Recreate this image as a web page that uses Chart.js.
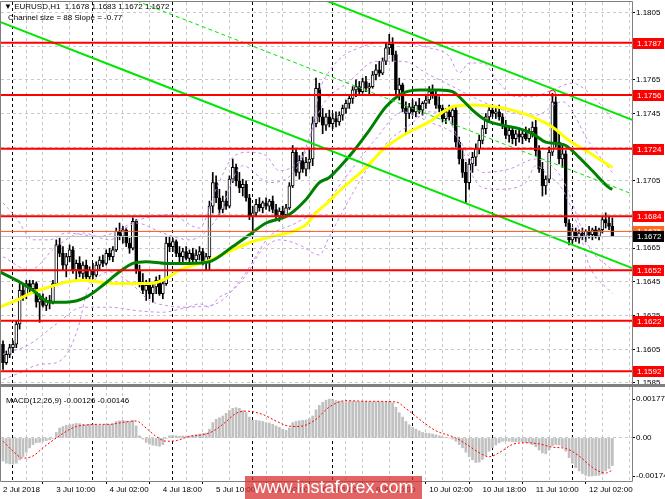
<!DOCTYPE html>
<html>
<head>
<meta charset="utf-8">
<script src="https://cdn.jsdelivr.net/npm/chart.js@4.4.1/dist/chart.umd.min.js"></script>
<style>
  html, body { margin: 0; padding: 0; background: #fff; }
  #wrap { position: relative; width: 665px; height: 499px; overflow: hidden; font-family: 'Liberation Sans', Arial, sans-serif; }
  canvas { position: absolute; left: 0; }
  #price { top: 0; }
  #macd { top: 386px; }
  .txt { position: absolute; font-size: 8px; line-height: 10px; color: #000; white-space: pre; }
  #mark { position: absolute; left: 245px; top: 476px; width: 177px; height: 23px; background: rgba(215, 50, 50, 0.75);
          color: #fff; font-size: 18px; line-height: 23px; text-align: center; }
</style>
</head>
<body>
<div id="wrap">
  <canvas id="price" width="665" height="392"></canvas>
  <canvas id="macd" width="665" height="113"></canvas>
  <div class="txt" style="left:4px;top:2px">▼ EURUSD,H1  1.1678 1.1683 1.1672 1.1672</div>
  <div class="txt" style="left:8px;top:13px">Channel size = 88 Slope = -0.77</div>
  <div class="txt" style="left:6px;top:396px">MACD(12,26,9) -0.00126 -0.00146</div>
  <div id="mark">www.instaforex.com</div>
</div>
<script>
// H1 candles, bar 0 = 2 Jul 18:00
const opens = [
  1.1608,1.1597,1.1602,1.1606,1.1608,1.1620,1.1640,1.1637,1.1644,1.1641,
  1.1644,1.1633,1.1635,1.1631,1.1634,1.1633,1.1644,1.1667,1.1662,1.1655,
  1.1660,1.1664,1.1652,1.1656,1.1650,1.1655,1.1648,1.1652,1.1649,1.1655,
  1.1658,1.1656,1.1662,1.1660,1.1664,1.1675,1.1672,1.1676,1.1668,1.1665,
  1.1681,1.1652,1.1645,1.1640,1.1643,1.1638,1.1642,1.1646,1.1638,1.1644,
  1.1668,1.1666,1.1669,1.1662,1.1660,1.1663,1.1659,1.1662,1.1658,1.1661,
  1.1663,1.1657,1.1660,1.1690,1.1704,1.1695,1.1688,1.1693,1.1690,1.1706,
  1.1713,1.1705,1.1701,1.1703,1.1695,1.1684,1.1686,1.1691,1.1689,1.1692,
  1.1690,1.1693,1.1688,1.1684,1.1687,1.1685,1.1689,1.1702,1.1722,1.1710,
  1.1717,1.1712,1.1716,1.1718,1.1739,1.1760,1.1743,1.1738,1.1743,1.1739,
  1.1742,1.1740,1.1744,1.1748,1.1751,1.1754,1.1759,1.1761,1.1758,1.1764,
  1.1760,1.1761,1.1768,1.1771,1.1769,1.1776,1.1784,1.1786,1.1780,1.1759,
  1.1762,1.1748,1.1745,1.1749,1.1746,1.1750,1.1747,1.1751,1.1753,1.1758,
  1.1756,1.1750,1.1748,1.1742,1.1746,1.1743,1.1747,1.1728,1.1718,1.1710,
  1.1704,1.1715,1.1719,1.1724,1.1729,1.1736,1.1743,1.1747,1.1745,1.1746,
  1.1743,1.1738,1.1732,1.1735,1.1730,1.1733,1.1731,1.1733,1.1730,1.1734,
  1.1737,1.1723,1.1712,1.1702,1.1706,1.1722,1.1752,1.1728,1.1718,1.1721,
  1.1680,1.1670,1.1675,1.1671,1.1674,1.1672,1.1675,1.1673,1.1676,1.1672,
  1.1676,1.1682,1.1680,1.1678
];
const highs = [
  1.1610,1.1604,1.1608,1.1610,1.1622,1.1644,1.1644,1.1646,1.1646,1.1646,
  1.1645,1.1638,1.1638,1.1636,1.1637,1.1646,1.1670,1.1671,1.1666,1.1662,
  1.1667,1.1666,1.1658,1.1660,1.1657,1.1658,1.1654,1.1656,1.1657,1.1660,
  1.1661,1.1664,1.1665,1.1666,1.1677,1.1680,1.1678,1.1677,1.1671,1.1683,
  1.1682,1.1655,1.1650,1.1646,1.1647,1.1644,1.1648,1.1649,1.1646,1.1672,
  1.1672,1.1671,1.1670,1.1666,1.1665,1.1666,1.1664,1.1665,1.1664,1.1666,
  1.1665,1.1662,1.1693,1.1710,1.1708,1.1700,1.1696,1.1699,1.1708,1.1718,
  1.1715,1.1710,1.1706,1.1705,1.1697,1.1690,1.1694,1.1695,1.1693,1.1695,
  1.1694,1.1696,1.1691,1.1689,1.1690,1.1691,1.1704,1.1726,1.1724,1.1720,
  1.1722,1.1719,1.1724,1.1743,1.1766,1.1763,1.1748,1.1745,1.1747,1.1745,
  1.1746,1.1746,1.1750,1.1753,1.1756,1.1761,1.1765,1.1764,1.1766,1.1767,
  1.1763,1.1770,1.1774,1.1776,1.1778,1.1787,1.1792,1.1790,1.1782,1.1766,
  1.1763,1.1752,1.1751,1.1753,1.1752,1.1754,1.1752,1.1756,1.1761,1.1762,
  1.1759,1.1755,1.1750,1.1748,1.1750,1.1749,1.1749,1.1731,1.1724,1.1716,
  1.1718,1.1722,1.1727,1.1732,1.1738,1.1745,1.1749,1.1750,1.1749,1.1750,
  1.1745,1.1741,1.1737,1.1737,1.1735,1.1736,1.1735,1.1737,1.1736,1.1740,
  1.1741,1.1726,1.1716,1.1708,1.1725,1.1757,1.1755,1.1733,1.1727,1.1723,
  1.1682,1.1677,1.1677,1.1676,1.1677,1.1676,1.1678,1.1677,1.1678,1.1677,
  1.1684,1.1686,1.1684,1.1683
];
const lows = [
  1.1593,1.1596,1.1600,1.1603,1.1606,1.1617,1.1634,1.1635,1.1639,1.1638,
  1.1630,1.1621,1.1630,1.1628,1.1629,1.1632,1.1643,1.1660,1.1652,1.1648,
  1.1657,1.1650,1.1646,1.1648,1.1647,1.1646,1.1645,1.1647,1.1648,1.1652,
  1.1654,1.1655,1.1658,1.1657,1.1663,1.1670,1.1668,1.1666,1.1662,1.1664,
  1.1650,1.1642,1.1638,1.1634,1.1635,1.1633,1.1638,1.1637,1.1635,1.1643,
  1.1663,1.1663,1.1660,1.1657,1.1656,1.1658,1.1656,1.1657,1.1656,1.1658,
  1.1655,1.1652,1.1652,1.1686,1.1692,1.1685,1.1686,1.1688,1.1689,1.1704,
  1.1702,1.1698,1.1696,1.1693,1.1682,1.1673,1.1684,1.1687,1.1686,1.1688,
  1.1687,1.1686,1.1682,1.1681,1.1683,1.1684,1.1688,1.1701,1.1708,1.1706,
  1.1710,1.1708,1.1712,1.1714,1.1737,1.1740,1.1733,1.1735,1.1737,1.1736,
  1.1737,1.1738,1.1741,1.1745,1.1748,1.1751,1.1755,1.1756,1.1757,1.1758,
  1.1756,1.1760,1.1765,1.1767,1.1768,1.1774,1.1780,1.1776,1.1756,1.1753,
  1.1746,1.1733,1.1742,1.1744,1.1743,1.1745,1.1744,1.1748,1.1751,1.1754,
  1.1748,1.1746,1.1740,1.1739,1.1741,1.1738,1.1725,1.1715,1.1707,1.1692,
  1.1700,1.1710,1.1714,1.1721,1.1727,1.1733,1.1740,1.1743,1.1742,1.1741,
  1.1736,1.1730,1.1728,1.1727,1.1726,1.1728,1.1727,1.1729,1.1728,1.1731,
  1.1720,1.1710,1.1696,1.1697,1.1704,1.1720,1.1725,1.1715,1.1713,1.1678,
  1.1667,1.1668,1.1669,1.1668,1.1670,1.1669,1.1671,1.1670,1.1671,1.1670,
  1.1674,1.1677,1.1676,1.1672
];
const closes = [
  1.1597,1.1602,1.1606,1.1608,1.1620,1.1640,1.1637,1.1644,1.1641,1.1644,
  1.1633,1.1635,1.1631,1.1634,1.1633,1.1644,1.1667,1.1662,1.1655,1.1660,
  1.1664,1.1652,1.1656,1.1650,1.1655,1.1648,1.1652,1.1649,1.1655,1.1658,
  1.1656,1.1662,1.1660,1.1664,1.1675,1.1672,1.1676,1.1668,1.1665,1.1681,
  1.1652,1.1645,1.1640,1.1643,1.1638,1.1642,1.1646,1.1638,1.1644,1.1668,
  1.1666,1.1669,1.1662,1.1660,1.1663,1.1659,1.1662,1.1658,1.1661,1.1663,
  1.1657,1.1660,1.1690,1.1704,1.1695,1.1688,1.1693,1.1690,1.1706,1.1713,
  1.1705,1.1701,1.1703,1.1695,1.1684,1.1686,1.1691,1.1689,1.1692,1.1690,
  1.1693,1.1688,1.1684,1.1687,1.1685,1.1689,1.1702,1.1722,1.1710,1.1717,
  1.1712,1.1716,1.1718,1.1739,1.1760,1.1743,1.1738,1.1743,1.1739,1.1742,
  1.1740,1.1744,1.1748,1.1751,1.1754,1.1759,1.1761,1.1758,1.1764,1.1760,
  1.1761,1.1768,1.1771,1.1769,1.1776,1.1784,1.1786,1.1780,1.1759,1.1762,
  1.1748,1.1745,1.1749,1.1746,1.1750,1.1747,1.1751,1.1753,1.1758,1.1756,
  1.1750,1.1748,1.1742,1.1746,1.1743,1.1747,1.1728,1.1718,1.1710,1.1704,
  1.1715,1.1719,1.1724,1.1729,1.1736,1.1743,1.1747,1.1745,1.1746,1.1743,
  1.1738,1.1732,1.1735,1.1730,1.1733,1.1731,1.1733,1.1730,1.1734,1.1737,
  1.1723,1.1712,1.1702,1.1706,1.1722,1.1752,1.1728,1.1718,1.1721,1.1680,
  1.1670,1.1675,1.1671,1.1674,1.1672,1.1675,1.1673,1.1676,1.1672,1.1676,
  1.1682,1.1680,1.1678,1.1672
];

// moving averages (bar index, price)
const greenMaAt = [-1,5,9,14,19,25,30,35,39,43,49,56,62,69,74,79,84,86,91,95,98,101,105,110,115,120,125,131,135,138,141,145,150,155,159,163,167,169,173,177,182,183];
const greenMa = [1.1651,1.1645,1.1640,1.1633,1.1633,1.1636,1.1643,1.1651,1.1656,1.1657,1.1656,1.1656,1.1657,1.1666,1.1673,1.1680,1.1683,1.1685,1.1694,1.1704,1.1707,1.1713,1.1722,1.1735,1.1749,1.1757,1.1759,1.1759,1.1758,1.1753,1.1747,1.1741,1.1738,1.1736,1.1733,1.1728,1.1727,1.1726,1.1719,1.1711,1.1701,1.1700];
const yellowMaAt = [-1,5,9,14,19,24,29,34,39,44,49,53,61,69,75,81,87,91,94,98,101,108,115,121,128,135,141,148,153,159,165,170,175,179,183];
const yellowMa = [1.1630,1.1635,1.1639,1.1642,1.1645,1.1646,1.1645,1.1644,1.1644,1.1644,1.1647,1.1652,1.1657,1.1664,1.1669,1.1672,1.1675,1.1679,1.1686,1.1693,1.1699,1.1711,1.1725,1.1733,1.1740,1.1749,1.1750,1.1749,1.1747,1.1743,1.1737,1.1729,1.1723,1.1718,1.1713];

// violet dotted bands
const outerUpAt = [0,4,9,14,19,29,41,50,59,64,69,74,79,83,89,92,95,98,102,107,113,119,128,134,137,140,144,149,154,159,165,171,175,180,183];
const outerUp = [1.1692,1.1683,1.1670,1.1670,1.1674,1.1672,1.1682,1.1685,1.1677,1.1700,1.1719,1.1722,1.1720,1.1711,1.1717,1.1728,1.1758,1.1770,1.1779,1.1784,1.1787,1.1787,1.1784,1.1779,1.1769,1.1775,1.1775,1.1763,1.1755,1.1755,1.1759,1.1763,1.1759,1.1749,1.1741];
const outerLoAt = [0,5,11,16,20,23,25,28,32,39,44,49,55,59,62,65,69,74,77,83,89,95,98,104,110,116,122,128,134,138,141,144,149,157,160,164,168,173,176,182,183];
const outerLo = [1.1587,1.1591,1.1596,1.1597,1.1605,1.1621,1.1638,1.1647,1.1651,1.1643,1.1634,1.1631,1.1630,1.1632,1.1630,1.1636,1.1640,1.1652,1.1662,1.1670,1.1667,1.1661,1.1672,1.1694,1.1714,1.1729,1.1738,1.1746,1.1741,1.1723,1.1708,1.1701,1.1700,1.1704,1.1714,1.1708,1.1700,1.1676,1.1655,1.1640,1.1638];
const innerAt = [0,8,16,24,32,40,48,56,64,72,80,88,96,104,112,120,128,136,144,152,160,168,176,183];
const innerUp = [1.1660,1.1652,1.1666,1.1674,1.1670,1.1680,1.1674,1.1670,1.1682,1.1714,1.1704,1.1712,1.1750,1.1764,1.1776,1.1776,1.1768,1.1760,1.1752,1.1746,1.1744,1.1752,1.1728,1.1710];
const innerLo = [1.1602,1.1608,1.1620,1.1630,1.1630,1.1628,1.1627,1.1630,1.1632,1.1648,1.1672,1.1680,1.1690,1.1710,1.1730,1.1746,1.1740,1.1732,1.1710,1.1712,1.1718,1.1706,1.1666,1.1652];

// regression channel (88 pips wide, slope -0.77 pips per bar)
const channelAt = [-1, 189];
const channelHigh = [1.18875, 1.17412];
const channelMid = [1.18435, 1.16972];
const channelLow = [1.17995, 1.16532];

// horizontal levels
const levels = [1.1787, 1.1756, 1.1724, 1.1684, 1.1652, 1.1622, 1.1592];
const askLevel = 1.1675;
const bidLevel = 1.1672;
const alertBar = [165];
const alertPrice = [1.1757];

// MACD(12,26,9)
const macd = [
  -0.00105,-0.00115,-0.00118,-0.00119,-0.00115,-0.00100,-0.00085,-0.00065,-0.00045,-0.00030,
  -0.00022,-0.00020,-0.00015,-0.00012,-0.00008,-0.00002,0.00025,0.00045,0.00052,0.00058,
  0.00060,0.00063,0.00066,0.00065,0.00062,0.00060,0.00062,0.00063,0.00060,0.00058,
  0.00060,0.00063,0.00062,0.00065,0.00075,0.00078,0.00080,0.00077,0.00074,0.00080,
  0.00055,0.00010,-0.00005,-0.00020,-0.00028,-0.00033,-0.00035,-0.00038,-0.00030,-0.00003,
  0.00010,0.00012,0.00010,0.00008,0.00009,0.00008,0.00009,0.00012,0.00015,0.00018,
  0.00020,0.00022,0.00040,0.00070,0.00085,0.00092,0.00100,0.00112,0.00125,0.00135,
  0.00138,0.00135,0.00125,0.00115,0.00095,0.00080,0.00080,0.00078,0.00075,0.00070,
  0.00068,0.00062,0.00055,0.00048,0.00040,0.00035,0.00045,0.00070,0.00075,0.00078,
  0.00080,0.00082,0.00088,0.00100,0.00128,0.00148,0.00162,0.00172,0.00177,0.00175,
  0.00170,0.00168,0.00165,0.00165,0.00167,0.00167,0.00166,0.00165,0.00166,0.00166,
  0.00165,0.00164,0.00165,0.00165,0.00164,0.00165,0.00166,0.00160,0.00140,0.00115,
  0.00095,0.00075,0.00060,0.00048,0.00040,0.00032,0.00025,0.00022,0.00020,0.00018,
  0.00014,0.00010,0.00005,0.00003,0.00000,-0.00005,-0.00015,-0.00030,-0.00045,-0.00065,
  -0.00085,-0.00100,-0.00112,-0.00110,-0.00098,-0.00080,-0.00060,-0.00045,-0.00032,-0.00022,
  -0.00015,-0.00014,-0.00015,-0.00016,-0.00017,-0.00016,-0.00018,-0.00020,-0.00022,-0.00030,
  -0.00040,-0.00055,-0.00068,-0.00072,-0.00055,-0.00035,-0.00030,-0.00032,-0.00040,-0.00060,
  -0.00090,-0.00115,-0.00135,-0.00150,-0.00162,-0.00170,-0.00174,-0.00173,-0.00171,-0.00170,
  -0.00165,-0.00150,-0.00140,-0.00126
];
const signalAt = [0,3,6,9,12,16,19,22,25,29,32,36,40,43,46,49,52,56,60,63,67,70,73,78,82,85,88,91,94,98,103,109,118,121,126,130,136,140,143,146,149,153,157,161,165,169,173,177,181,183];
const signal = [-0.00015,-0.00060,-0.00092,-0.00082,-0.00045,0.00000,0.00030,0.00052,0.00059,0.00062,
  0.00062,0.00071,0.00077,0.00045,0.00007,-0.00015,-0.00012,0.00007,0.00015,0.00030,
  0.00074,0.00112,0.00122,0.00107,0.00077,0.00057,0.00052,0.00059,0.00085,0.00141,
  0.00170,0.00167,0.00164,0.00134,0.00074,0.00033,0.00000,-0.00037,-0.00067,-0.00086,
  -0.00067,-0.00030,-0.00022,-0.00027,-0.00042,-0.00048,-0.00082,-0.00134,-0.00160,-0.00146];

// axes
const priceTicks = [1.1585, 1.1605, 1.1625, 1.1645, 1.1665, 1.1685, 1.1705, 1.1725, 1.1745, 1.1765, 1.1785, 1.1805];
const macdTicks = [0.00177, 0, -0.00174];
const timeLabels = ['2 Jul 2018', '3 Jul 10:00', '4 Jul 02:00', '4 Jul 18:00', '5 Jul 10:00', '6 Jul 02:00',
                    '6 Jul 18:00', '9 Jul 10:00', '10 Jul 02:00', '10 Jul 18:00', '11 Jul 10:00', '12 Jul 02:00'];
const labelBars = [0, 16, 32, 48, 64, 80, 96, 112, 128, 144, 160, 176];
const gridBars = [0, 8, 16, 24, 32, 40, 48, 56, 64, 72, 80, 88, 96, 104, 112, 120, 128, 136, 144, 152, 160, 168, 176, 184];
const dayStarts = [6, 30, 54, 78, 102, 126, 150, 174];
const xTicks = gridBars.concat(dayStarts).sort((a, b) => a - b);

Chart.defaults.font.family = "'Liberation Sans', Arial, sans-serif";
Chart.defaults.font.size = 8;
Chart.defaults.color = '#000';

const pts = (xs, ys) => xs.map((x, i) => ({ x: x, y: ys[i] }));
const flat = v => [{ x: -1, y: v }, { x: 190, y: v }];
const lineDs = (data, color, width, extra) => Object.assign({
  type: 'line', data: data, borderColor: color, borderWidth: width,
  pointRadius: 0, fill: false, cubicInterpolationMode: 'monotone'
}, extra || {});

function timeAxis(withLabels) {
  return {
    type: 'linear', min: -0.6, max: 188.9, offset: false,
    afterBuildTicks: axis => { axis.ticks = xTicks.map(v => ({ value: v })); },
    afterFit: axis => { axis.paddingLeft = 0; axis.paddingRight = 0; axis.height = withLabels ? 18 : 0; },
    grid: {
      color: c => (c.tick && dayStarts.includes(c.tick.value)) ? '#000000' : '#c8c8c8',
      drawTicks: withLabels, tickLength: 3,
      tickColor: c => (c.tick && labelBars.includes(c.tick.value)) ? '#000000' : 'rgba(0,0,0,0)'
    },
    border: { display: false, dash: [3, 3] },
    ticks: {
      display: withLabels, autoSkip: false, maxRotation: 0, align: 'start', padding: 1,
      callback: v => { const k = labelBars.indexOf(v); return k < 0 ? '' : timeLabels[k]; }
    }
  };
}

// fixed-width right scale with no extra label padding above/below
const fitRight = axis => { axis.width = 33; axis.paddingTop = 0; axis.paddingBottom = 0; };

function frame(isMain) {
  return {
    id: 'frame',
    afterDraw(chart) {
      const { ctx, chartArea: a } = chart;
      ctx.save();
      ctx.strokeStyle = '#808080';
      ctx.lineWidth = 1;
      ctx.beginPath();
      ctx.moveTo(a.left - 0.5, a.top - 0.5);
      ctx.lineTo(a.left - 0.5, a.bottom + 0.5);
      ctx.moveTo(a.right + 0.5, a.top - 0.5);
      ctx.lineTo(a.right + 0.5, a.bottom + 0.5);
      if (isMain) {
        ctx.moveTo(a.left - 0.5, a.top - 0.5);
        ctx.lineTo(a.right + 0.5, a.top - 0.5);
      } else {
        ctx.moveTo(a.left - 0.5, a.bottom + 0.5);
        ctx.lineTo(a.right + 0.5, a.bottom + 0.5);
      }
      ctx.stroke();
      ctx.fillStyle = '#808080';
      if (isMain) ctx.fillRect(0, a.bottom, chart.width, 2);
      else ctx.fillRect(0, 0, chart.width, 1);
      ctx.restore();
    }
  };
}

// price tags on the right scale
const priceTags = {
  id: 'priceTags',
  afterDraw(chart) {
    const { ctx } = chart;
    const y = chart.scales.y;
    const x0 = chart.chartArea.right + 1;
    ctx.save();
    ctx.font = "8px 'Liberation Sans', Arial, sans-serif";
    ctx.textBaseline = 'middle';
    const tag = (v, bg) => {
      const py = Math.round(y.getPixelForValue(v));
      ctx.fillStyle = bg;
      ctx.fillRect(x0, py - 5, 31, 11);
      ctx.fillStyle = '#ffffff';
      ctx.fillText(v.toFixed(4), x0 + 4, py + 0.5);
    };
    levels.forEach(v => tag(v, '#ff0000'));
    tag(askLevel, '#ff6a20');
    tag(bidLevel, '#000000');
    ctx.restore();
  }
};

const mainSets = [];
mainSets.push({
  type: 'line', data: pts(alertBar, alertPrice), showLine: false, pointRadius: 3, pointBorderWidth: 1,
  pointBorderColor: '#ff0000', pointBackgroundColor: 'rgba(0,0,0,0)', order: 0
});
levels.forEach(v => mainSets.push(lineDs(flat(v), '#ff0000', 2, { order: 1 })));
mainSets.push(lineDs(flat(askLevel), '#ff5020', 1, { order: 2 }));
mainSets.push(lineDs(flat(bidLevel), '#c0c0c0', 1, { order: 2 }));
mainSets.push(lineDs(pts(channelAt, channelHigh), '#00e600', 2, { order: 3 }));
mainSets.push(lineDs(pts(channelAt, channelLow), '#00e600', 2, { order: 3 }));
mainSets.push(lineDs(pts(channelAt, channelMid), '#00e600', 1, { order: 3, borderDash: [4, 3] }));
mainSets.push(lineDs(pts(greenMaAt, greenMa), '#008000', 3, { order: 4 }));
mainSets.push(lineDs(pts(yellowMaAt, yellowMa), '#ffff00', 3, { order: 5 }));
[[outerUpAt, outerUp], [outerLoAt, outerLo], [innerAt, innerUp], [innerAt, innerLo]].forEach(b =>
  mainSets.push(lineDs(pts(b[0], b[1]), '#c88ee8', 1, { order: 6, borderDash: [3, 3] })));
mainSets.push({
  type: 'bar', data: closes.map((c, i) => ({ x: i, y: [opens[i], c] })),
  backgroundColor: ctx => closes[ctx.dataIndex] >= opens[ctx.dataIndex] ? '#ffffff' : '#000000',
  borderColor: '#000000', borderWidth: 1, borderSkipped: false, barThickness: 3,
  grouped: false, minBarLength: 1, order: 7
});
mainSets.push({
  type: 'bar', data: highs.map((h, i) => ({ x: i, y: [lows[i], h] })),
  backgroundColor: '#000000', barThickness: 1, grouped: false, minBarLength: 1, order: 8
});

new Chart(document.getElementById('price'), {
  type: 'bar',
  data: { datasets: mainSets },
  options: {
    responsive: false, animation: false, devicePixelRatio: 1, events: [],
    layout: { autoPadding: false, padding: { left: 1, right: 0, top: 2, bottom: 8 } },
    plugins: { legend: { display: false }, tooltip: { enabled: false } },
    scales: {
      x: timeAxis(false),
      y: {
        position: 'right', min: 1.15844, max: 1.18112, beginAtZero: false,
        afterBuildTicks: axis => { axis.ticks = priceTicks.map(v => ({ value: v })); },
        afterFit: fitRight,
        grid: { color: '#c8c8c8', tickLength: 3, tickColor: '#000000' },
        border: { display: false, dash: [3, 3] },
        ticks: { padding: 1, autoSkip: false, callback: v => v.toFixed(4) }
      }
    }
  },
  plugins: [frame(true), priceTags]
});

new Chart(document.getElementById('macd'), {
  type: 'bar',
  data: {
    datasets: [
      lineDs(pts(signalAt, signal), '#ff0000', 1, { order: 1, borderDash: [2, 2] }),
      {
        type: 'bar', data: macd.map((v, i) => ({ x: i, y: v })),
        backgroundColor: '#c0c0c0', barThickness: 2, grouped: false, order: 2
      }
    ]
  },
  options: {
    responsive: false, animation: false, devicePixelRatio: 1, events: [],
    layout: { autoPadding: false, padding: { left: 1, right: 0, top: 1, bottom: 0 } },
    plugins: { legend: { display: false }, tooltip: { enabled: false } },
    scales: {
      x: timeAxis(true),
      y: {
        position: 'right', min: -0.00196, max: 0.00232, beginAtZero: false,
        afterBuildTicks: axis => { axis.ticks = macdTicks.map(v => ({ value: v })); },
        afterFit: fitRight,
        grid: { color: c => (c.tick && c.tick.value === 0) ? '#c8c8c8' : 'rgba(0,0,0,0)', tickLength: 3, tickColor: '#000000' },
        border: { display: false, dash: [3, 3] },
        ticks: { padding: 1, autoSkip: false, callback: v => v === 0 ? '0.00' : v.toFixed(5) }
      }
    }
  },
  plugins: [frame(false)]
});
</script>
</body>
</html>
